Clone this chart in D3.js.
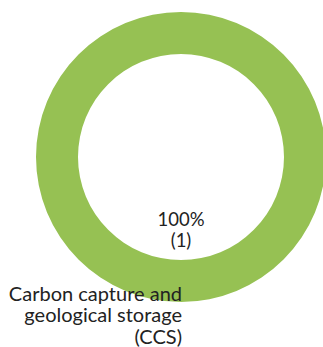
<!DOCTYPE html>
<html>
<head>
<meta charset="utf-8">
<script src="https://cdn.jsdelivr.net/npm/d3@7"></script>
<style>
  html, body { margin: 0; padding: 0; background: #fff; }
  svg { display: block; }
  text { font-family: Lato, "Open Sans", sans-serif; fill: #222; }
</style>
</head>
<body>
<svg id="chart" width="323" height="347"></svg>
<script>
// Share of projects by technology
const categories = ["Carbon capture and geological storage (CCS)"];
const counts = [1];
const colors = ["#96c153"];
const categoryLines = [["Carbon capture and", "geological storage", "(CCS)"]];

const width = 323, height = 347;
const cx = 181, cy = 157;
const outerR = 145, innerR = 103;

const svg = d3.select("#chart");
const total = d3.sum(counts);

const pie = d3.pie().sort(null).value(d => d.count);
const arc = d3.arc().innerRadius(innerR).outerRadius(outerR);

const data = categories.map((c, i) => ({ category: c, count: counts[i], color: colors[i], lines: categoryLines[i] }));

const g = svg.append("g").attr("transform", `translate(${cx},${cy})`);

g.selectAll("path.slice")
  .data(pie(data))
  .join("path")
  .attr("class", "slice")
  .attr("d", arc)
  .attr("fill", d => d.data.color);

// Value label inside the ring
const pct = d3.format(".0%");
const valueLabel = svg.append("text")
  .attr("text-anchor", "middle")
  .attr("font-size", 18.5);
valueLabel.append("tspan").attr("x", cx).attr("y", 225.5)
  .text(pct(data[0].count / total));
valueLabel.append("tspan").attr("x", cx).attr("y", 247)
  .text(`(${data[0].count})`);

// Category label, right aligned below the ring
const catLabel = svg.append("text")
  .attr("text-anchor", "end")
  .attr("font-size", 20);
data[0].lines.forEach((line, i) => {
  catLabel.append("tspan").attr("x", 182).attr("y", 300.5 + i * 21.7).text(line);
});
</script>
</body>
</html>
